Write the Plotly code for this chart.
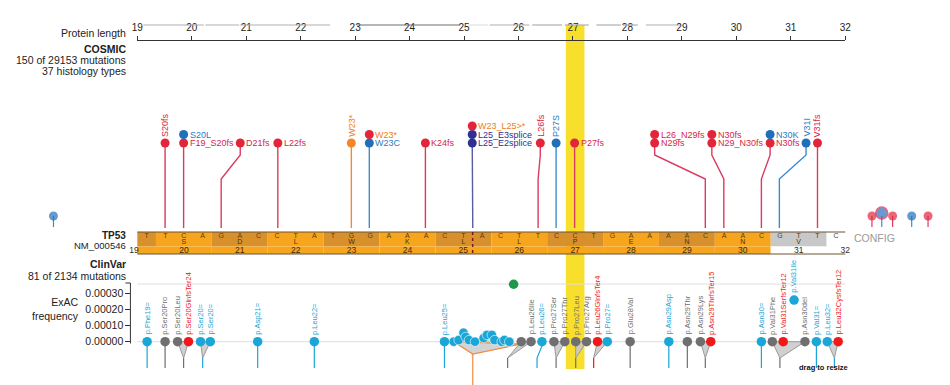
import plotly.graph_objects as go

W, H = 950, 385
PX_PER_AA = 717 / 13.0
X_LO = 19 - 133 / PX_PER_AA
X_HI = 19 + (W - 133) / PX_PER_AA

# ---------------- data ----------------
protein_ticks = list(range(19, 33))

coverage_start = [19.11, 20.25, 20.89, 23.03, 25.07, 25.47, 26.25, 26.85, 27.43, 27.92, 28.34]
coverage_end = [20.22, 20.87, 22.54, 24.93, 25.44, 26.20, 26.80, 27.29, 27.88, 28.19, 28.96]
coverage_tone = ["mid", "mid", "mid", "dark", "faint", "mid", "mid", "mid", "mid", "mid", "mid"]

nucleotides = list("TTCAGACCTATGGAAACTACTTCCTGAAAACAACGTTC")
codon_numbers = list(range(19, 33))
codon_aa = ["F", "S", "D", "L", "W", "K", "L", "L", "P", "E", "N", "N", "V", "L"]
codon_tone = ["dark", "light", "dark", "light", "dark", "light", "dark", "light", "dark",
              "light", "dark", "light", "grey", "white"]
seq_start, seq_end = 19, 32
exon_boundary_nt = 18
highlight_nt = 23

# COSMIC
cosmic_label = ["S20fs", "F19_S20fs", "S20L", "D21fs", "L22fs", "W23*", "W23C", "W23*", "K24fs",
                "L25_E2splice", "L25_E3splice", "W23_L25>*", "L26fs", "P27S", "P27fs",
                "N29fs", "L26_N29fs", "N29_N30fs", "N30fs", "N30fs", "N30K", "V31I", "V31fs"]
cosmic_class = ["frameshift", "frameshift", "missense", "frameshift", "frameshift", "nonsense",
                "missense", "stopgain", "frameshift", "splice", "splice", "stopgain", "frameshift",
                "missense", "frameshift", "frameshift", "frameshift", "frameshift", "frameshift",
                "frameshift", "missense", "missense", "frameshift"]
cosmic_head_pos = [19.51, 19.85, 19.85, 20.89, 21.58, 22.93, 23.26, 23.26, 24.29, 25.15, 25.15,
                   25.15, 26.40, 26.69, 27.03, 28.50, 28.50, 29.55, 29.55, 30.62, 30.62, 31.28, 31.49]
cosmic_site_pos = [19.51, 19.85, 19.85, 20.54, 21.58, 22.93, 23.26, 23.26, 24.29, 25.16, 25.16,
                   25.16, 26.36, 26.69, 27.03, 29.43, 29.43, 29.77, 29.77, 30.46, 30.46, 30.79, 31.49]
cosmic_level = [0, 0, 1, 0, 0, 0, 0, 1, 0, 0, 1, 2, 0, 0, 0, 0, 1, 0, 1, 0, 1, 0, 0]
cosmic_vertical = [1, 0, 0, 0, 0, 1, 0, 0, 0, 0, 0, 0, 1, 1, 0, 0, 0, 0, 0, 0, 0, 1, 1]

offscreen_pos = [17.46, 32.49, 32.67, 32.87, 33.22, 33.52]
offscreen_class = ["missense", "frameshift", "multi", "frameshift", "missense", "frameshift"]

# ClinVar
clin_label = ["p.Phe19=", "p.Ser20Pro", "p.Ser20Leu", "p.Ser20GlnfsTer24", "p.Ser20=", "p.Ser20=",
              "p.Asp21=", "p.Leu22=", "p.Leu25=", "", "p.Leu26Ile", "p.Leu26=", "p.Pro27Ser",
              "p.Pro27Thr", "p.Pro27Leu", "p.Pro27Arg", "p.Leu26GlnfsTer4", "p.Pro27=",
              "p.Glu28Val", "p.Asn29Asp", "p.Asn29Thr", "p.Asn29Lys", "p.Asn29ThrfsTer15",
              "p.Asn30=", "p.Val31Phe", "p.Val31SerfsTer12", "p.Val31Ile", "p.Asn30del",
              "p.Val31=", "p.Leu32=", "p.Leu32CysfsTer12"]
clin_pos = [19.18, 19.51, 19.74, 19.94, 20.16, 20.34, 21.21, 22.25, 24.64, 26.05, 26.23, 26.43,
            26.65, 26.85, 27.05, 27.25, 27.45, 27.63, 28.05, 28.76, 29.10, 29.34, 29.53, 30.46,
            30.66, 30.86, 31.06, 31.26, 31.47, 31.67, 31.87]
clin_freq = [0, 0, 0, 0, 0, 0, 0, 0, 0, 0, 0, 0, 0, 0, 0, 0, 0, 0, 0, 0, 0, 0, 0, 0, 0, 0,
             0.00026, 0, 0, 0, 0]
clin_class = ["benign", "uncertain", "uncertain", "pathogenic", "benign", "benign", "benign",
              "benign", "benign", "uncertain", "uncertain", "benign", "uncertain", "uncertain",
              "uncertain", "uncertain", "pathogenic", "benign", "uncertain", "benign", "uncertain",
              "uncertain", "pathogenic", "benign", "uncertain", "pathogenic", "benign", "uncertain",
              "benign", "benign", "pathogenic"]
clin_stem_to = [19.18, 19.51, 19.85, 19.85, 20.20, 20.20, 21.21, 22.25, 24.64, 25.80, 25.80, 26.34,
                26.69, 26.69, 27.05, 27.05, 27.38, 27.38, 28.05, 28.76, 29.10, 29.43, 29.43, 30.46,
                30.80, 30.80, None, 30.80, 31.47, 31.80, 31.80]

cluster_pos = [24.81, 24.90, 24.99, 25.03, 25.09, 25.20, 25.36, 25.42, 25.51, 25.56, 25.69, 25.74, 25.83]
cluster_freq = [0.0, 0.00001, 0.000056, 0.00003, 0.00001, 0.0, 0.000023, 0.000042, 0.000042,
                0.00001, 0.0, 0.00001, 0.0]
cluster_stem_to = 25.16

exac_outlier_pos = [25.91]
exac_outlier_freq = [0.000359]

exac_ticks = [0.0, 0.0001, 0.0002, 0.0003]

# ---------------- styles ----------------
FONT = "Liberation Sans, Arial, sans-serif"
cls_head = {"frameshift": "#e3253c", "missense": "#1f70b8", "nonsense": "#f2872a",
            "stopgain": "#e3253c", "splice": "#2e3192", "multi": "#2f6fc0"}
cls_label = {"frameshift": "#d81e4a", "missense": "#2a7cc4", "nonsense": "#ef7b1e",
             "stopgain": "#ef7b1e", "splice": "#2e3192"}
cls_stem = {"frameshift": "#dc3a60", "missense": "#3c8ccc", "nonsense": "#f08a3a",
            "stopgain": "#dc3a60", "splice": "#5a5aa6", "multi": "#3c8ccc"}
clin_col = {"benign": "#1aa6d6", "uncertain": "#6f6f72", "pathogenic": "#f01818"}
tone_col = {"light": "#f8a51e", "dark": "#d8902c", "grey": "#c8c8c8", "white": "#ffffff"}
cov_col = {"mid": "#b0b0b0", "dark": "#6e6e6e", "faint": "#e2e2e2"}

FREQ_PER_PX = 1e-4 / 16.0
ZERO_PX = 341.7


def fpx(px):
    return (ZERO_PX - px) * FREQ_PER_PX


def lev_y(level):
    return 143 - 8.5 * level


nt_w = (seq_end - seq_start) / len(nucleotides)


def nt_x(i):
    return seq_start + i * nt_w


fig = go.Figure()
shapes = []
ann = []

# highlight column
shapes.append(dict(type="rect", xref="x", yref="y", x0=nt_x(highlight_nt), x1=nt_x(highlight_nt + 1),
                   y0=25, y1=369, fillcolor="#f8df2c", line=dict(width=0), layer="below"))

# coverage lines
for s, e, t in zip(coverage_start, coverage_end, coverage_tone):
    shapes.append(dict(type="line", xref="x", yref="y", x0=s, x1=e, y0=25, y1=25,
                       line=dict(color=cov_col[t], width=1.2)))

# sequence track
n_nt = len(nucleotides)
for c, tone in zip(codon_numbers, codon_tone):
    a = max(0, 3 * (c - 20) + 1)
    b = min(n_nt, 3 * (c - 20) + 4)
    shapes.append(dict(type="rect", xref="x", yref="y", x0=nt_x(a), x1=nt_x(b), y0=232, y1=246.5,
                       fillcolor=tone_col[tone], line=dict(width=0), layer="below"))
    bottom = tone_col["light"] if tone in ("light", "dark") else "#ffffff"
    shapes.append(dict(type="rect", xref="x", yref="y", x0=nt_x(a), x1=nt_x(b), y0=246.5, y1=254,
                       fillcolor=bottom, line=dict(width=0), layer="below"))
for yy in (232, 254):
    shapes.append(dict(type="line", xref="x", yref="y", x0=seq_start, x1=seq_end, y0=yy, y1=yy,
                       line=dict(color="#6a5232", width=1)))
shapes.append(dict(type="line", xref="x", yref="y", x0=nt_x(exon_boundary_nt), x1=nt_x(exon_boundary_nt),
                   y0=232, y1=254, line=dict(color="#7a1a10", width=1.5, dash="dot")))

fig.add_trace(go.Scatter(x=[nt_x(i + 0.5) for i in range(n_nt)], y=[236.5] * n_nt, mode="text",
                         text=nucleotides, textfont=dict(size=7, color="#5a3d16", family=FONT),
                         hoverinfo="skip", showlegend=False))
aa_x, aa_t, num_x, num_t = [], [], [], []
for c, aa in zip(codon_numbers, codon_aa):
    mid = 3 * (c - 20) + 2
    if 0 <= mid < n_nt:
        aa_x.append(nt_x(mid + 0.5))
        aa_t.append(aa)
    num_x.append(min(max(nt_x(mid + 0.5), seq_start + 0.17), seq_end))
    num_t.append(str(c))
fig.add_trace(go.Scatter(x=aa_x, y=[242.5] * len(aa_x), mode="text", text=aa_t,
                         textfont=dict(size=7, color="#4a3010", family=FONT),
                         hoverinfo="skip", showlegend=False))
num_x[0] = seq_start - 0.06
fig.add_trace(go.Scatter(x=num_x, y=[250.5] * len(num_x), mode="text", text=num_t,
                         textfont=dict(size=8.5, color="#3a2a14", family=FONT),
                         hoverinfo="skip", showlegend=False))

# COSMIC stems
for i, lv in enumerate(cosmic_level):
    if lv != 0:
        continue
    h, s = cosmic_head_pos[i], cosmic_site_pos[i]
    fig.add_trace(go.Scatter(x=[h, h, s, s], y=[lev_y(0), 155, 179, 228], mode="lines",
                             line=dict(color=cls_stem[cosmic_class[i]], width=1.4),
                             hoverinfo="skip", showlegend=False))

# offscreen stems + heads
for p, c in zip(offscreen_pos, offscreen_class):
    fig.add_trace(go.Scatter(x=[p, p], y=[216, 227], mode="lines",
                             line=dict(color=cls_stem[c], width=1.2), hoverinfo="skip", showlegend=False))
fig.add_trace(go.Scatter(x=offscreen_pos, y=[216 if c != "multi" else 213 for c in offscreen_class],
                         mode="markers",
                         marker=dict(size=[12 if c == "multi" else 9 for c in offscreen_class],
                                     color=[cls_head[c] for c in offscreen_class],
                                     line=dict(width=[1.5 if c == "multi" else 0 for c in offscreen_class],
                                               color="#e3253c")),
                         hoverinfo="skip", showlegend=False))

# COSMIC heads
fig.add_trace(go.Scatter(x=cosmic_head_pos, y=[lev_y(l) for l in cosmic_level], mode="markers",
                         marker=dict(size=9, color=[cls_head[c] for c in cosmic_class]),
                         hoverinfo="skip", showlegend=False))
for l, p, lv, c, v in zip(cosmic_label, cosmic_head_pos, cosmic_level, cosmic_class, cosmic_vertical):
    if v:
        ann.append(dict(x=p, y=lev_y(lv) - 5, xref="x", yref="y", text=l, textangle=-90,
                        showarrow=False, xanchor="center", yanchor="bottom", borderpad=0,
                        font=dict(size=9, color=cls_label[c], family=FONT)))
    else:
        ann.append(dict(x=p, y=lev_y(lv), xref="x", yref="y", text=l, xshift=5,
                        showarrow=False, xanchor="left", yanchor="middle", borderpad=0,
                        font=dict(size=9, color=cls_label[c], family=FONT)))

# ClinVar guide lines
for f in (0.0, fpx(284)):
    shapes.append(dict(type="line", xref="x", yref="y2", x0=19, x1=32, y0=f, y1=f,
                       line=dict(color="#dedede", width=1), layer="below"))

MERGE = fpx(358)
BOTTOM = fpx(368)
# cluster band + bracket
shapes.append(dict(type="rect", xref="x", yref="y2", x0=cluster_pos[0], x1=cluster_pos[-1],
                   y0=fpx(343), y1=fpx(338.5), fillcolor="#a9dcef", line=dict(width=0), layer="below"))
fig.add_trace(go.Scatter(x=[cluster_pos[0], cluster_stem_to, cluster_pos[-1] + 0.22, cluster_pos[0]],
                         y=[0, fpx(354), fpx(344), 0], yaxis="y2", mode="lines", fill="toself",
                         fillcolor="rgba(200,200,200,0.8)", line=dict(color="#ef8a3c", width=1.2),
                         hoverinfo="skip", showlegend=False))
fig.add_trace(go.Scatter(x=[cluster_stem_to, cluster_stem_to], y=[fpx(354), fpx(385)], yaxis="y2",
                         mode="lines", line=dict(color="#ef8a3c", width=1.2), hoverinfo="skip",
                         showlegend=False))

# ClinVar stems / groups
i = 0
n = len(clin_pos)
while i < n:
    st = clin_stem_to[i]
    if st is None:
        i += 1
        continue
    j = i
    members = [i]
    while j + 1 < n and (clin_stem_to[j + 1] == st or clin_stem_to[j + 1] is None):
        j += 1
        if clin_stem_to[j] == st:
            members.append(j)
    if clin_stem_to[j] is None:
        j -= 1
    col = clin_col[clin_class[members[0]]]
    if len(members) == 1:
        p = clin_pos[i]
        fig.add_trace(go.Scatter(x=[p, p, st, st], y=[0, fpx(346), fpx(358), BOTTOM], yaxis="y2",
                                 mode="lines", line=dict(color=col, width=1.2),
                                 hoverinfo="skip", showlegend=False))
    else:
        xs = [clin_pos[members[0]], st, clin_pos[members[-1]], clin_pos[members[0]]]
        fig.add_trace(go.Scatter(x=xs, y=[0, MERGE, 0, 0], yaxis="y2", mode="lines", fill="toself",
                                 fillcolor="rgba(200,200,200,0.85)", line=dict(color="#9a9a9a", width=1),
                                 hoverinfo="skip", showlegend=False))
        fig.add_trace(go.Scatter(x=[st, st], y=[MERGE, BOTTOM], yaxis="y2", mode="lines",
                                 line=dict(color=col, width=1.2), hoverinfo="skip", showlegend=False))
    i = j + 1

# cluster heads
fig.add_trace(go.Scatter(x=cluster_pos, y=cluster_freq, yaxis="y2", mode="markers",
                         marker=dict(size=9.5, color=clin_col["benign"], line=dict(color="#ffffff", width=0.6)),
                         hoverinfo="skip", showlegend=False))
# ClinVar heads
fig.add_trace(go.Scatter(x=clin_pos, y=clin_freq, yaxis="y2", mode="markers",
                         marker=dict(size=9.5, color=[clin_col[c] for c in clin_class]),
                         hoverinfo="skip", showlegend=False))
fig.add_trace(go.Scatter(x=exac_outlier_pos, y=exac_outlier_freq, yaxis="y2", mode="markers",
                         marker=dict(size=9.5, color="#1c9a4a"), hoverinfo="skip", showlegend=False))
for l, p, f, c in zip(clin_label, clin_pos, clin_freq, clin_class):
    if l:
        ann.append(dict(x=p, y=f + 6 * FREQ_PER_PX, xref="x", yref="y2", text=l, textangle=-90,
                        showarrow=False, xanchor="center", yanchor="bottom", borderpad=0,
                        font=dict(size=7.5, color=clin_col[c], family=FONT)))

# ExAC axis line
AX_X = 126 / W
shapes.append(dict(type="line", xref="paper", yref="y2", x0=AX_X, x1=AX_X, y0=fpx(343.5), y1=fpx(283),
                   line=dict(color="#333", width=1)))
shapes.append(dict(type="line", xref="paper", yref="y2", x0=AX_X - 5 / W, x1=AX_X, y0=fpx(283), y1=fpx(283),
                   line=dict(color="#333", width=1)))

# left labels
LX = 123 / W
for t, y, b, s in [("Protein length", 33, False, 10.5), ("COSMIC", 49, True, 10.5),
                   ("150 of 29153 mutations", 60, False, 10.5), ("37 histology types", 71, False, 10.5),
                   ("TP53", 235.5, True, 10), ("NM_000546", 245, False, 9.5),
                   ("ClinVar", 264, True, 10.5), ("81 of 2134 mutations", 276, False, 10.5)]:
    ann.append(dict(x=LX, y=y, xref="paper", yref="y", text=("<b>%s</b>" % t) if b else t, showarrow=False,
                    xanchor="right", yanchor="middle", borderpad=0,
                    font=dict(size=s, color="#222", family=FONT)))
ann.append(dict(x=75 / W, y=308.5, xref="paper", yref="y", text="ExAC<br>frequency", showarrow=False,
                xanchor="right", yanchor="middle", align="right", borderpad=0,
                font=dict(size=10.5, color="#222", family=FONT)))
ann.append(dict(x=858 / W, y=238, xref="paper", yref="y", text="CONFIG", showarrow=False,
                xanchor="left", yanchor="middle", borderpad=0, font=dict(size=10.5, color="#9a9a9a", family=FONT)))
ann.append(dict(x=828 / W, y=367, xref="paper", yref="y", text="<b>drag to resize</b>", showarrow=False,
                xanchor="center", yanchor="middle", borderpad=0, font=dict(size=7.5, color="#111", family=FONT)))

# dummy for protein axis
fig.add_trace(go.Scatter(x=[19, 32], y=[0, 0], xaxis="x2", yaxis="y", mode="markers",
                         marker=dict(opacity=0), hoverinfo="skip", showlegend=False))

fig.update_layout(
    width=W, height=H, margin=dict(l=0, r=0, t=0, b=0),
    paper_bgcolor="white", plot_bgcolor="rgba(0,0,0,0)",
    xaxis=dict(range=[X_LO, X_HI], visible=False, domain=[0, 1]),
    yaxis=dict(range=[H, 0], visible=False, domain=[0, 1]),
    xaxis2=dict(range=[19, 32], domain=[133 / W, 850 / W], anchor="free", position=(H - 40) / H,
                side="top", tickvals=protein_ticks, ticks="outside", ticklen=4, tickcolor="#333",
                showline=True, linecolor="#333", linewidth=1, showgrid=False, zeroline=False,
                tickfont=dict(size=10, color="#222", family=FONT), ticklabelstandoff=1),
    yaxis2=dict(range=[fpx(H), fpx(0)], overlaying="y", anchor="free", position=AX_X, side="left",
                tickvals=exac_ticks, ticktext=["%.5f" % v for v in exac_ticks], ticks="outside",
                ticklen=5, tickcolor="#333", showline=False, showgrid=False, zeroline=False,
                tickfont=dict(size=10.5, color="#222", family=FONT)),
    shapes=shapes, annotations=ann, font=dict(family=FONT),
)

fig.write_html("out.html", config={"displayModeBar": False},
               post_script="document.body.style.margin='0px';document.body.style.overflow='hidden';")
